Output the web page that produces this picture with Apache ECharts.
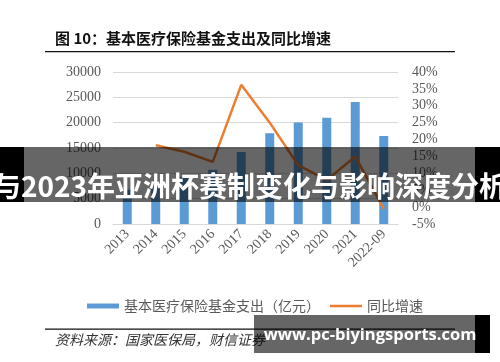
<!DOCTYPE html>
<html>
<head>
<meta charset="utf-8">
<script src="https://cdn.jsdelivr.net/npm/echarts@6/dist/echarts.min.js"></script>
<style>html,body{margin:0;padding:0;background:#fff;}#c{width:500px;height:362px;}</style>
</head>
<body>
<div id="c"></div>
<script>
var categories = ['2013','2014','2015','2016','2017','2018','2019','2020','2021','2022-09'];
var expenditure = [6800, 8130, 9310, 10700, 14200, 17900, 20050, 20980, 24060, 17380];
var growth = [null, 18.3, 16.4, 13.4, 36.2, 25.0, 12.4, 8.0, 15.0, -0.5];
var leftTicks = {min: 0, max: 30000, interval: 5000};
var rightTicks = {min: -5, max: 40, interval: 5};
var seriesNames = ['基本医疗保险基金支出（亿元）', '同比增速'];
var titleText = '图 10：基本医疗保险基金支出及同比增速';
var sourceText = '资料来源：国家医保局，财信证券';
var bannerText = '与2023年亚洲杯赛制变化与影响深度分析';
var watermarkText = 'www.pc-biyingsports.com';

var chart = echarts.init(document.getElementById('c'));
var serif = 'Liberation Serif';
var labelColor = '#595959';
chart.setOption({
  animation: false,
  backgroundColor: '#fff',
  grid: {left: 113, right: 102, top: 72, bottom: 138},
  legend: {
    left: 82, top: 294, itemGap: 10,
    textStyle: {color: labelColor, fontSize: 14, fontFamily: 'Noto Sans CJK SC'},
    data: [
      {name: seriesNames[0], icon: 'rect', itemStyle: {color: '#5B9BD5'}},
      {name: seriesNames[1], icon: 'path://M0,1.2 L32,1.2 L32,3.8 L0,3.8 Z', itemStyle: {color: '#ED7D31'}}
    ],
    itemWidth: 32, itemHeight: 5
  },
  xAxis: {
    type: 'category', data: categories,
    axisLine: {lineStyle: {color: '#D9D9D9'}},
    axisTick: {show: false},
    axisLabel: {rotate: 45, color: labelColor, fontSize: 14, fontFamily: serif, margin: 8, interval: 0}
  },
  yAxis: [
    {type: 'value', min: leftTicks.min, max: leftTicks.max, interval: leftTicks.interval,
     axisLine: {show: false}, axisTick: {show: false},
     splitLine: {lineStyle: {color: '#D9D9D9', width: 1}},
     axisLabel: {color: labelColor, fontSize: 14, fontFamily: serif, margin: 12,
                 formatter: function (v) { return String(v); }}},
    {type: 'value', min: rightTicks.min, max: rightTicks.max, interval: rightTicks.interval,
     axisLine: {show: false}, axisTick: {show: false}, splitLine: {show: false},
     axisLabel: {color: labelColor, fontSize: 14, fontFamily: serif, margin: 14, formatter: '{value}%'}}
  ],
  series: [
    {name: seriesNames[0], type: 'bar', data: expenditure, barWidth: 9,
     itemStyle: {color: '#5B9BD5'}, yAxisIndex: 0},
    {name: seriesNames[1], type: 'line', data: growth, yAxisIndex: 1,
     symbol: 'none', lineStyle: {color: '#ED7D31', width: 2.5}, itemStyle: {color: '#ED7D31'}}
  ],
  graphic: [
    {type: 'text', left: 55, top: 31, z: 50,
     style: {text: titleText, font: 'bold 15px "Noto Sans CJK SC"', fill: '#111'}},
    {type: 'rect', shape: {x: 45, y: 51, width: 410, height: 1.3}, style: {fill: '#111'}, z: 50},
    {type: 'rect', shape: {x: 45, y: 328.5, width: 410, height: 1.2}, style: {fill: '#111'}, z: 50},
    {type: 'text', left: 55, top: 333, z: 50,
     style: {text: sourceText, font: 'italic 14px "Noto Sans CJK SC"', fill: '#333'}},
    {type: 'rect', shape: {x: 0, y: 147, width: 24, height: 55}, style: {fill: '#000'}, z: 100},
    {type: 'rect', shape: {x: 24, y: 147, width: 451, height: 55}, style: {fill: 'rgba(0,0,0,0.6)'}, z: 100},
    {type: 'rect', shape: {x: 475, y: 147, width: 25, height: 55}, style: {fill: '#000'}, z: 100},
    {type: 'text', z: 101, x: 250, y: 186,
     style: {text: bannerText, font: 'bold 28px "Noto Sans CJK SC"', fill: '#fff', textAlign: 'center', textVerticalAlign: 'middle'}},
    {type: 'rect', shape: {x: 254, y: 315, width: 221, height: 38}, style: {fill: 'rgba(0,0,0,0.6)'}, z: 100},
    {type: 'rect', shape: {x: 475, y: 315, width: 15, height: 38}, style: {fill: '#000'}, z: 100},
    {type: 'text', z: 101, x: 370, y: 335,
     style: {text: watermarkText, font: 'bold 16.5px "Open Sans"', fill: '#fff', textAlign: 'center', textVerticalAlign: 'middle'}}
  ]
});
</script>
</body>
</html>
